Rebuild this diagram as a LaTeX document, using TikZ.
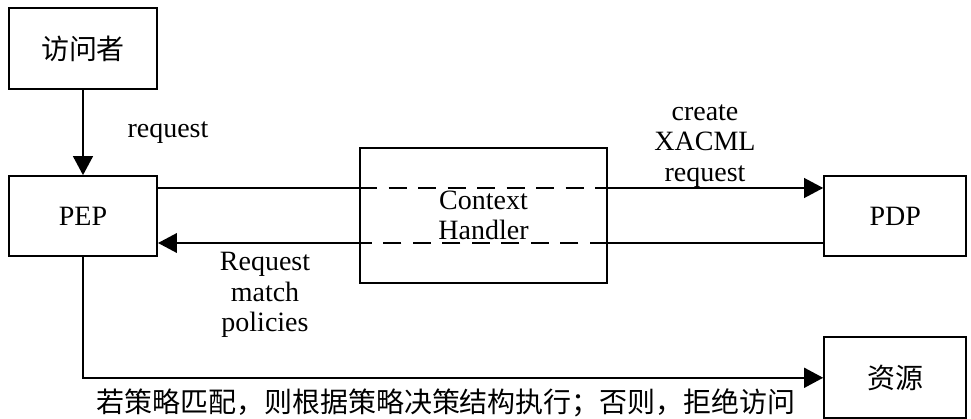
\documentclass[tikz,border=0pt]{standalone}
\usepackage{fontspec}
\setmainfont{Liberation Serif}
\newfontfamily\cjk{Noto Sans CJK SC}
\usetikzlibrary{arrows.meta}

\begin{document}
\begin{tikzpicture}[x=0.025cm, y=-0.025cm, >={Triangle[length=13.5pt, width=14pt]}, node distance=2cm, font=\fontsize{19.9pt}{21.5pt}\selectfont, every node/.style={text=black, align=center}, box/.style={draw=black, line width=1.4pt, minimum width=3.7cm, minimum height=2cm, inner sep=0pt}, link/.style={line width=1.1pt}, thick link/.style={line width=1.6pt}, dashline/.style={line width=2pt, dash pattern=on 13pt off 8pt}]
	\useasboundingbox (0,0) rectangle (971,419);
	\node[box, minimum height=2.025cm] (visitor) at (83,48.5) {\cjk 访问者};
	\node[box] (pep) [below of=visitor, node distance=4.19cm] {PEP};
	\node[box, minimum width=3.55cm] (pdp) [right of=pep, node distance=20.3cm] {PDP};
	\node[box, minimum width=3.55cm, minimum height=2.025cm] (res) [below of=pdp, node distance=4.04cm] {\cjk 资源};
	\node[box, minimum width=6.175cm, minimum height=3.375cm] (ctx) at (483.5,215.5) {Context\\Handler};
	
	\node (req) at (168,133) {request};
	\node (xreq) at (705,146) {create\\XACML\\request};
	\node (match) at (265,295) {Request\\match\\policies};
	\node (note) at (446,403) {\cjk 若策略匹配，则根据策略决策结构执行；否则，拒绝访问};
	
	\coordinate (hi) at (0,188);
	\coordinate (lo) at (0,243);
	
	\draw[->, thick link] (visitor) -- (pep);
	
	\draw[link] (pep.east |- hi) -- (ctx.west |- hi);
	\draw[dashline] (ctx.west |- hi) -- (ctx.east |- hi);
	\draw[->, link] (ctx.east |- hi) -- (pdp.west |- hi);
	
	\draw[link] (pdp.west |- lo) -- (ctx.east |- lo);
	\draw[dashline] (ctx.east |- lo) -- (ctx.west |- lo);
	\draw[->, link] (ctx.west |- lo) -- (pep.east |- lo);
	
	\draw[->, thick link] (pep.south) -- (pep.south |- res.west) -- (res.west);
\end{tikzpicture}
\end{document}
